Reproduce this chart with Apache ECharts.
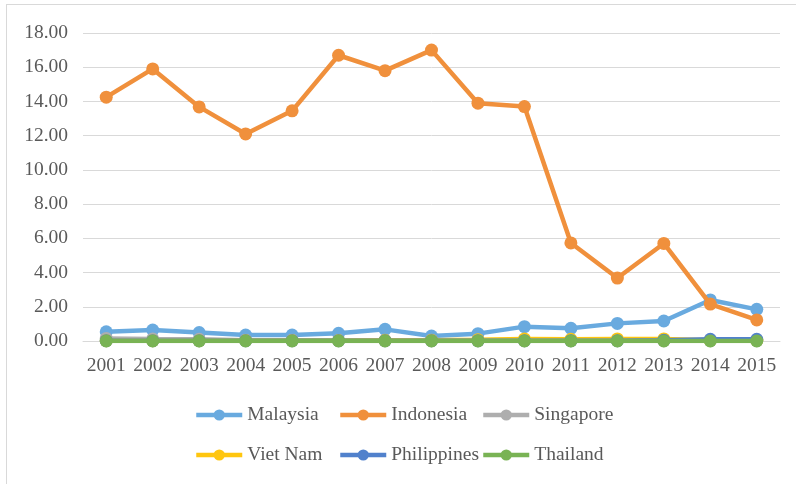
<!DOCTYPE html>
<html>
<head>
<meta charset="utf-8">
<script src="https://cdn.jsdelivr.net/npm/echarts@6/dist/echarts.min.js"></script>
<style>
  html, body { margin: 0; padding: 0; background: #fff; }
  #wrap { position: relative; width: 796px; height: 484px; overflow: hidden; }
  #frame { position: absolute; left: 6px; top: 4px; width: 900px; height: 600px;
           border-left: 1px solid #d9d9d9; border-top: 1px solid #d9d9d9; box-sizing: border-box; }
  #chart { position: absolute; left: 0; top: 0; width: 796px; height: 484px; }
</style>
</head>
<body>
<div id="wrap">
  <div id="frame"></div>
  <div id="chart"></div>
</div>
<script>
// Years on the category axis
const years = ['2001','2002','2003','2004','2005','2006','2007','2008','2009','2010','2011','2012','2013','2014','2015'];

// Values per country
const malaysia    = [0.54, 0.64, 0.49, 0.35, 0.35, 0.45, 0.68, 0.29, 0.43, 0.84, 0.74, 1.03, 1.17, 2.40, 1.85];
const indonesia   = [14.25, 15.90, 13.68, 12.10, 13.45, 16.70, 15.80, 17.00, 13.90, 13.70, 5.73, 3.68, 5.70, 2.16, 1.23];
const singapore   = [0.15, 0.12, 0.10, 0.05, 0.05, 0.03, 0.03, 0.02, 0.02, 0.02, 0.02, 0.02, 0.02, 0.02, 0.02];
const vietNam     = [0.02, 0.02, 0.02, 0.03, 0.03, 0.03, 0.04, 0.05, 0.08, 0.12, 0.10, 0.12, 0.12, 0.05, 0.05];
const philippines = [0.02, 0.02, 0.02, 0.02, 0.02, 0.02, 0.02, 0.02, 0.02, 0.02, 0.02, 0.02, 0.05, 0.10, 0.10];
const thailand    = [0.00, 0.00, 0.00, 0.00, 0.00, 0.00, 0.00, 0.00, 0.00, 0.00, 0.00, 0.00, 0.00, 0.00, 0.00];

const countries = ['Malaysia', 'Indonesia', 'Singapore', 'Viet Nam', 'Philippines', 'Thailand'];
const colors = ['#69AADF', '#F0903C', '#AEAEAE', '#FFC60F', '#5181CC', '#79B354'];
const values = [malaysia, indonesia, singapore, vietNam, philippines, thailand];

const FONT = '"Liberation Serif", "Times New Roman", serif';
const TEXT = '#595959';
const FS = 19.5;

const series = countries.map((name, i) => ({
  name: name,
  type: 'line',
  data: values[i],
  symbol: 'circle',
  symbolSize: 13,
  showSymbol: true,
  lineStyle: { width: 4.5, color: colors[i] },
  itemStyle: { color: colors[i] },
  z: 2 + i,
  animation: false
}));

// Legend laid out as a 3 x 2 grid: one legend entry per cell
const legendCols = [194, 338, 481];
const legendRows = [405, 445];
const legends = countries.map((name, i) => ({
  data: [name],
  left: legendCols[i % 3],
  top: legendRows[Math.floor(i / 3)],
  itemWidth: 46,
  itemHeight: 14,
  padding: 0,
  lineStyle: { width: 4.5 },
  textStyle: { fontFamily: FONT, fontSize: FS, color: TEXT }
}));

const chart = echarts.init(document.getElementById('chart'), null, { renderer: 'canvas' });
chart.setOption({
  backgroundColor: 'transparent',
  color: colors,
  animation: false,
  grid: { left: 83, right: 16, top: 33, bottom: 143, containLabel: false },
  xAxis: {
    type: 'category',
    data: years,
    boundaryGap: true,
    axisLine: { show: true, lineStyle: { color: '#d9d9d9', width: 1 } },
    axisTick: { show: false },
    axisLabel: { interval: 0, hideOverlap: false, fontFamily: FONT, fontSize: FS, color: TEXT, margin: 15 }
  },
  yAxis: {
    type: 'value',
    min: 0,
    max: 18,
    interval: 2,
    axisLine: { show: false },
    axisTick: { show: false },
    splitLine: { lineStyle: { color: '#d9d9d9', width: 1 } },
    axisLabel: {
      fontFamily: FONT, fontSize: FS, color: TEXT, margin: 15,
      formatter: v => v.toFixed(2)
    }
  },
  legend: legends,
  series: series
});
</script>
</body>
</html>
